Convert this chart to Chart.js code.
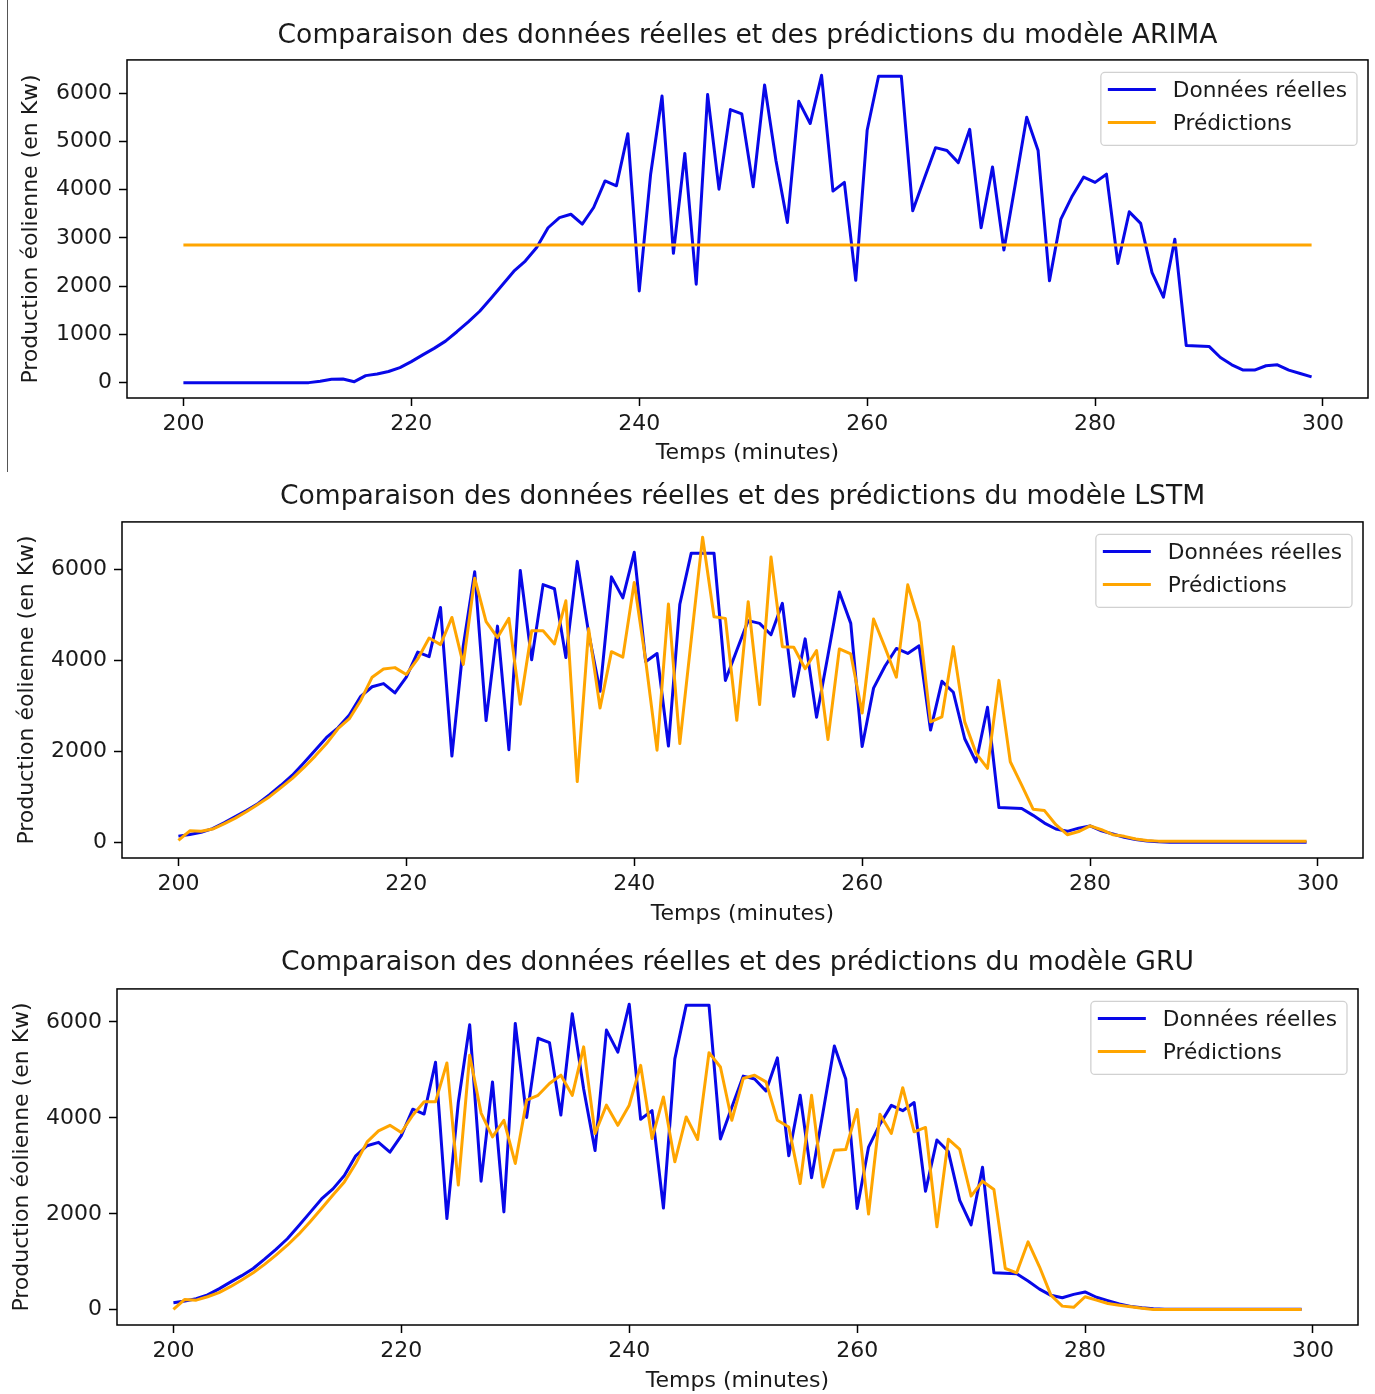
<!DOCTYPE html>
<html>
<head>
<meta charset="utf-8">
<script src="https://cdn.jsdelivr.net/npm/chart.js@4.4.0/dist/chart.umd.min.js"></script>
<style>
  body { margin: 0; background: #fff; width: 1375px; height: 1394px; position: relative; overflow: hidden; }
  canvas { position: absolute; left: 0; }
  #edge { position: absolute; left: 7px; top: 0; width: 0; height: 472px; border-left: 1px solid #555; }
</style>
</head>
<body>
<div id="edge"></div>
<canvas id="arima_chart" width="1375" height="470" style="top:0px"></canvas>
<canvas id="lstm_chart" width="1375" height="460" style="top:470px"></canvas>
<canvas id="gru_chart" width="1375" height="464" style="top:930px"></canvas>
<script>
// minutes 200..299, one value per minute
const startMinute = 200;
const xTicks = [200, 220, 240, 260, 280, 300];
const arimaYTicks = [0, 1000, 2000, 3000, 4000, 5000, 6000];
const nnYTicks = [0, 2000, 4000, 6000];

const arimaReal = [
  0, 0, 0, 0, 0, 0, 0, 0, 0, 0,
  0, 0, 30, 70, 75, 20, 145, 180, 230, 310,
  435, 575, 710, 860, 1055, 1260, 1480, 1750, 2030, 2310,
  2520, 2800, 3210, 3420, 3490, 3285, 3630, 4180, 4080, 5160,
  1900, 4320, 5940, 2680, 4750, 2040, 5970, 4010, 5660, 5570,
  4060, 6170, 4600, 3320, 5830, 5370, 6370, 3970, 4150, 2120,
  5230, 6350, 6350, 6350, 3560, 4220, 4870, 4810, 4560, 5250,
  3210, 4470, 2750, 4110, 5500, 4810, 2110, 3390, 3870, 4260,
  4150, 4320, 2470, 3540, 3300, 2280, 1770, 2970, 770, 760,
  750, 520, 370, 260, 260, 350, 370, 260, 190, 120,
];
const arimaPred = [
  2855, 2855, 2855, 2855, 2855, 2855, 2855, 2855, 2855, 2855,
  2855, 2855, 2855, 2855, 2855, 2855, 2855, 2855, 2855, 2855,
  2855, 2855, 2855, 2855, 2855, 2855, 2855, 2855, 2855, 2855,
  2855, 2855, 2855, 2855, 2855, 2855, 2855, 2855, 2855, 2855,
  2855, 2855, 2855, 2855, 2855, 2855, 2855, 2855, 2855, 2855,
  2855, 2855, 2855, 2855, 2855, 2855, 2855, 2855, 2855, 2855,
  2855, 2855, 2855, 2855, 2855, 2855, 2855, 2855, 2855, 2855,
  2855, 2855, 2855, 2855, 2855, 2855, 2855, 2855, 2855, 2855,
  2855, 2855, 2855, 2855, 2855, 2855, 2855, 2855, 2855, 2855,
  2855, 2855, 2855, 2855, 2855, 2855, 2855, 2855, 2855, 2855,
];

// réel pour LSTM et GRU (même série)
const nnReal = [
  145, 180, 230, 310, 435, 575, 710, 860, 1055, 1260,
  1480, 1750, 2030, 2310, 2520, 2800, 3210, 3420, 3490, 3285,
  3630, 4180, 4080, 5160, 1900, 4320, 5940, 2680, 4750, 2040,
  5970, 4010, 5660, 5570, 4060, 6170, 4600, 3320, 5830, 5370,
  6370, 3970, 4150, 2120, 5230, 6350, 6350, 6350, 3560, 4220,
  4870, 4810, 4560, 5250, 3210, 4470, 2750, 4110, 5500, 4810,
  2110, 3390, 3870, 4260, 4150, 4320, 2470, 3540, 3300, 2280,
  1770, 2970, 770, 760, 750, 600, 430, 300, 250, 320,
  370, 260, 190, 120, 70, 40, 20, 10, 10, 10,
  10, 10, 10, 10, 10, 10, 10, 10, 10, 10,
];
const lstmPred = [
  50, 260, 250, 300, 415, 540, 685, 845, 1010, 1210,
  1410, 1645, 1900, 2175, 2500, 2720, 3120, 3630, 3810, 3840,
  3690, 4030, 4490, 4345, 4940, 3910, 5800, 4850, 4500, 4920,
  3035, 4650, 4650, 4360, 5305, 1340, 4690, 2955, 4190, 4070,
  5705, 4000, 2030, 5235, 2175, 4450, 6700, 4955, 4920, 2685,
  5285, 3030, 6265, 4300, 4285, 3815, 4215, 2265, 4250, 4140,
  2845, 4905, 4285, 3630, 5655, 4835, 2650, 2760, 4300, 2650,
  1960, 1630, 3560, 1775, 1265, 735, 705, 395, 175, 245,
  370, 285, 175, 140, 80, 50, 35, 35, 35, 35,
  35, 35, 35, 35, 35, 35, 35, 35, 35, 35,
];
const gruPred = [
  5, 215, 200, 270, 355, 480, 620, 770, 945, 1140,
  1345, 1575, 1835, 2110, 2390, 2665, 3050, 3500, 3730, 3845,
  3695, 4055, 4335, 4335, 5145, 2600, 5305, 4100, 3605, 3950,
  3050, 4370, 4470, 4715, 4890, 4470, 5480, 3675, 4265, 3845,
  4265, 5095, 3570, 4435, 3085, 4020, 3550, 5360, 5060, 3950,
  4820, 4890, 4750, 3950, 3810, 2630, 4470, 2560, 3325, 3340,
  4175, 1995, 4075, 3675, 4630, 3710, 3800, 1730, 3555, 3345,
  2370, 2680, 2505, 860, 770, 1415, 895, 305, 75, 50,
  270, 200, 130, 95, 60, 30, 5, 5, 5, 5,
  5, 5, 5, 5, 5, 5, 5, 5, 5, 5,
];

const FONT = "'DejaVu Sans', sans-serif";
const BLUE = "#0808e8";
const ORANGE = "#ffa500";
const TEXT = "#1a1a1a";

const toPoints = (values) => values.map((v, i) => ({ x: startMinute + i, y: v }));

const lineSet = (label, values, color, order) => ({
  label: label,
  data: toPoints(values),
  borderColor: color,
  borderWidth: 3,
  borderJoinStyle: "round",
  pointRadius: 0,
  fill: false,
  tension: 0,
  order: order,
});

const framePlugin = {
  id: "frame",
  afterDraw(chart) {
    const { ctx, chartArea: a } = chart;
    ctx.save();
    ctx.strokeStyle = "#000";
    ctx.lineWidth = 1.5;
    ctx.strokeRect(a.left, a.top, a.right - a.left, a.bottom - a.top);
    ctx.restore();
  },
};

// légende encadrée dans le coin haut droit, comme matplotlib
const boxLegendPlugin = {
  id: "boxLegend",
  afterDraw(chart) {
    const { ctx, chartArea: a } = chart;
    const sets = chart.data.datasets;
    ctx.save();
    ctx.font = `21.7px ${FONT}`;
    const textW = Math.max(...sets.map((d) => ctx.measureText(d.label).width));
    const w = 72 + textW + 10;
    const h = 73;
    const x = a.right - 11 - w;
    const y = a.top + 12.5;
    ctx.beginPath();
    ctx.roundRect(x, y, w, h, 4);
    ctx.fillStyle = "rgba(255,255,255,0.8)";
    ctx.fill();
    ctx.strokeStyle = "rgba(204,204,204,0.9)";
    ctx.lineWidth = 1.3;
    ctx.stroke();
    sets.forEach((d, i) => {
      const cy = y + 17 + i * 33;
      ctx.strokeStyle = d.borderColor;
      ctx.lineWidth = 3;
      ctx.beginPath();
      ctx.moveTo(x + 7, cy);
      ctx.lineTo(x + 55, cy);
      ctx.stroke();
      ctx.fillStyle = TEXT;
      ctx.textAlign = "left";
      ctx.textBaseline = "alphabetic";
      ctx.fillText(d.label, x + 72, cy + 7.5);
    });
    ctx.restore();
  },
};

const makeChart = (canvasId, title, datasets, yTicks, yMin, yMax, box) => {
  const tickFont = { family: FONT, size: 22, lineHeight: 1.2 };
  return new Chart(document.getElementById(canvasId), {
    type: "line",
    data: { datasets: datasets },
    plugins: [framePlugin, boxLegendPlugin],
    options: {
      responsive: false,
      animation: false,
      devicePixelRatio: 1,
      layout: { padding: { left: 0, right: 1375 - box.right, top: 0, bottom: 0 } },
      plugins: {
        legend: { display: false },
        tooltip: { enabled: false },
        title: {
          display: true,
          text: title,
          fullSize: false,
          color: TEXT,
          font: { family: FONT, size: 26.6, weight: "normal", lineHeight: 1.2 },
          padding: { top: box.titleCenter - 16, bottom: box.top - box.titleCenter - 16 },
        },
      },
      scales: {
        x: {
          type: "linear",
          min: 195.05,
          max: 303.95,
          afterBuildTicks: (s) => {
            s.ticks = xTicks.map((v) => ({ value: v }));
          },
          afterFit: (s) => {
            s.height = box.canvasH - box.bottom;
          },
          ticks: {
            color: TEXT,
            font: tickFont,
            padding: 5,
            maxRotation: 0,
            autoSkip: false,
            callback: (v) => String(v),
          },
          grid: { drawOnChartArea: false, drawTicks: true, tickLength: 8, tickColor: "#000", tickWidth: 1.5 },
          border: { display: false },
          title: {
            display: true,
            text: "Temps (minutes)",
            color: TEXT,
            font: tickFont,
            padding: { top: 0, bottom: box.canvasH - box.xTitleCenter - 13 },
          },
        },
        y: {
          type: "linear",
          min: yMin,
          max: yMax,
          afterBuildTicks: (s) => {
            s.ticks = yTicks.map((v) => ({ value: v }));
          },
          afterFit: (s) => {
            s.width = box.left;
          },
          ticks: {
            color: TEXT,
            font: tickFont,
            padding: 7,
            autoSkip: false,
            callback: (v) => String(v),
          },
          grid: { drawOnChartArea: false, drawTicks: true, tickLength: 8, tickColor: "#000", tickWidth: 1.5 },
          border: { display: false },
          title: {
            display: true,
            text: "Production éolienne (en Kw)",
            color: TEXT,
            font: tickFont,
            padding: { top: box.yTitleCenter - 13, bottom: 0 },
          },
        },
      },
    },
  });
};

makeChart(
  "arima_chart",
  "Comparaison des données réelles et des prédictions du modèle ARIMA",
  [lineSet("Données réelles", arimaReal, BLUE, 1), lineSet("Prédictions", arimaPred, ORANGE, 0)],
  arimaYTicks, -318.5, 6688.5,
  { left: 127, right: 1368, top: 60, bottom: 398, canvasH: 470, titleCenter: 36, xTitleCenter: 453, yTitleCenter: 31 }
);

makeChart(
  "lstm_chart",
  "Comparaison des données réelles et des prédictions du modèle LSTM",
  [lineSet("Données réelles", nnReal, BLUE, 1), lineSet("Prédictions", lstmPred, ORANGE, 0)],
  nnYTicks, -335, 7035,
  { left: 122, right: 1363, top: 52, bottom: 388, canvasH: 460, titleCenter: 27, xTitleCenter: 444, yTitleCenter: 27 }
);

makeChart(
  "gru_chart",
  "Comparaison des données réelles et des prédictions du modèle GRU",
  [lineSet("Données réelles", nnReal, BLUE, 1), lineSet("Prédictions", gruPred, ORANGE, 0)],
  nnYTicks, -318.5, 6688.5,
  { left: 117, right: 1358, top: 59, bottom: 395, canvasH: 464, titleCenter: 33, xTitleCenter: 451, yTitleCenter: 22 }
);
</script>
</body>
</html>
